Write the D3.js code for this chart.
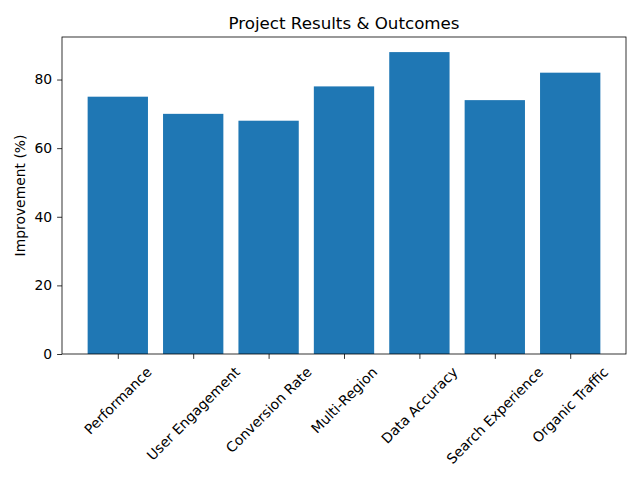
<!DOCTYPE html>
<html>
<head>
<meta charset="utf-8">
<script src="https://cdn.jsdelivr.net/npm/d3@7"></script>
<style>
  body { margin: 0; background: #fff; }
  svg { font-family: "DejaVu Sans", sans-serif; }
</style>
</head>
<body>
<div id="chart"></div>
<script>
// bar chart: project improvement per area
const categories = ['Performance', 'User Engagement', 'Conversion Rate', 'Multi-Region',
  'Data Accuracy', 'Search Experience', 'Organic Traffic']
const values = [75, 70, 68, 78, 88, 74, 82]
const yTicks = [0, 20, 40, 60, 80]

const W = 640
const H = 480
const margin = { top: 37, right: 14, bottom: 126, left: 62 }
const innerW = W - margin.left - margin.right
const innerH = H - margin.top - margin.bottom
const BAR = '#1f77b4'

const svg = d3.select('#chart').append('svg')
  .attr('width', W)
  .attr('height', H)

const g = svg.append('g').attr('transform', `translate(${margin.left},${margin.top})`)

// matplotlib-like limits: bars width 0.8, 5% margins
const idx = categories.map((d, i) => i)
const lo = -0.4, hi = categories.length - 1 + 0.4
const pad = (hi - lo) * 0.05
const x = d3.scaleLinear().domain([lo - pad, hi + pad]).range([0, innerW])
const y = d3.scaleLinear().domain([0, d3.max(values) * 1.05]).range([innerH, 0])

g.selectAll('rect.bar')
  .data(values)
  .join('rect')
  .attr('class', 'bar')
  .attr('x', (d, i) => x(i - 0.4))
  .attr('width', (d, i) => x(i + 0.4) - x(i - 0.4))
  .attr('y', (d) => y(d))
  .attr('height', (d) => innerH - y(d))
  .attr('fill', BAR)

// y axis
const yAxis = g.append('g')
  .call(d3.axisLeft(y).tickValues(yTicks).tickSize(4.9).tickPadding(4.9))
yAxis.select('.domain').remove()
yAxis.selectAll('text').attr('font-size', '13.9px').attr('fill', '#000')
  .attr('font-family', '"DejaVu Sans", sans-serif')
yAxis.selectAll('line').attr('stroke', '#000').attr('stroke-width', 0.8)

// x axis ticks only
const xAxis = g.append('g')
  .attr('transform', `translate(0,${innerH})`)
  .call(d3.axisBottom(x).tickValues(idx).tickSize(4.9).tickFormat(''))
xAxis.select('.domain').remove()
xAxis.selectAll('line').attr('stroke', '#000').attr('stroke-width', 0.8)

// rotated labels, bbox centered under tick
const labelTop = innerH + 4.9 + 4.9
const lineH = 16
g.append('g').selectAll('text')
  .data(categories)
  .join('text')
  .attr('font-size', '13.9px')
  .attr('fill', '#000')
  .attr('text-anchor', 'middle')
  .attr('dominant-baseline', 'central')
  .text((d) => d)
  .each(function (d, i) {
    const w = this.getComputedTextLength()
    const half = (w + lineH) * Math.SQRT1_2 / 2
    d3.select(this).attr('transform', `translate(${x(i)},${labelTop + half}) rotate(-45)`)
  })

// frame
g.append('rect')
  .attr('width', innerW)
  .attr('height', innerH)
  .attr('fill', 'none')
  .attr('stroke', '#000')
  .attr('stroke-width', 0.8)

// title + y label
svg.append('text')
  .attr('x', margin.left + innerW / 2)
  .attr('y', 29)
  .attr('text-anchor', 'middle')
  .attr('font-size', '16.7px')
  .text('Project Results & Outcomes')

svg.append('text')
  .attr('transform', `translate(25,${margin.top + innerH / 2}) rotate(-90)`)
  .attr('text-anchor', 'middle')
  .attr('font-size', '13.9px')
  .text('Improvement (%)')
</script>
</body>
</html>
